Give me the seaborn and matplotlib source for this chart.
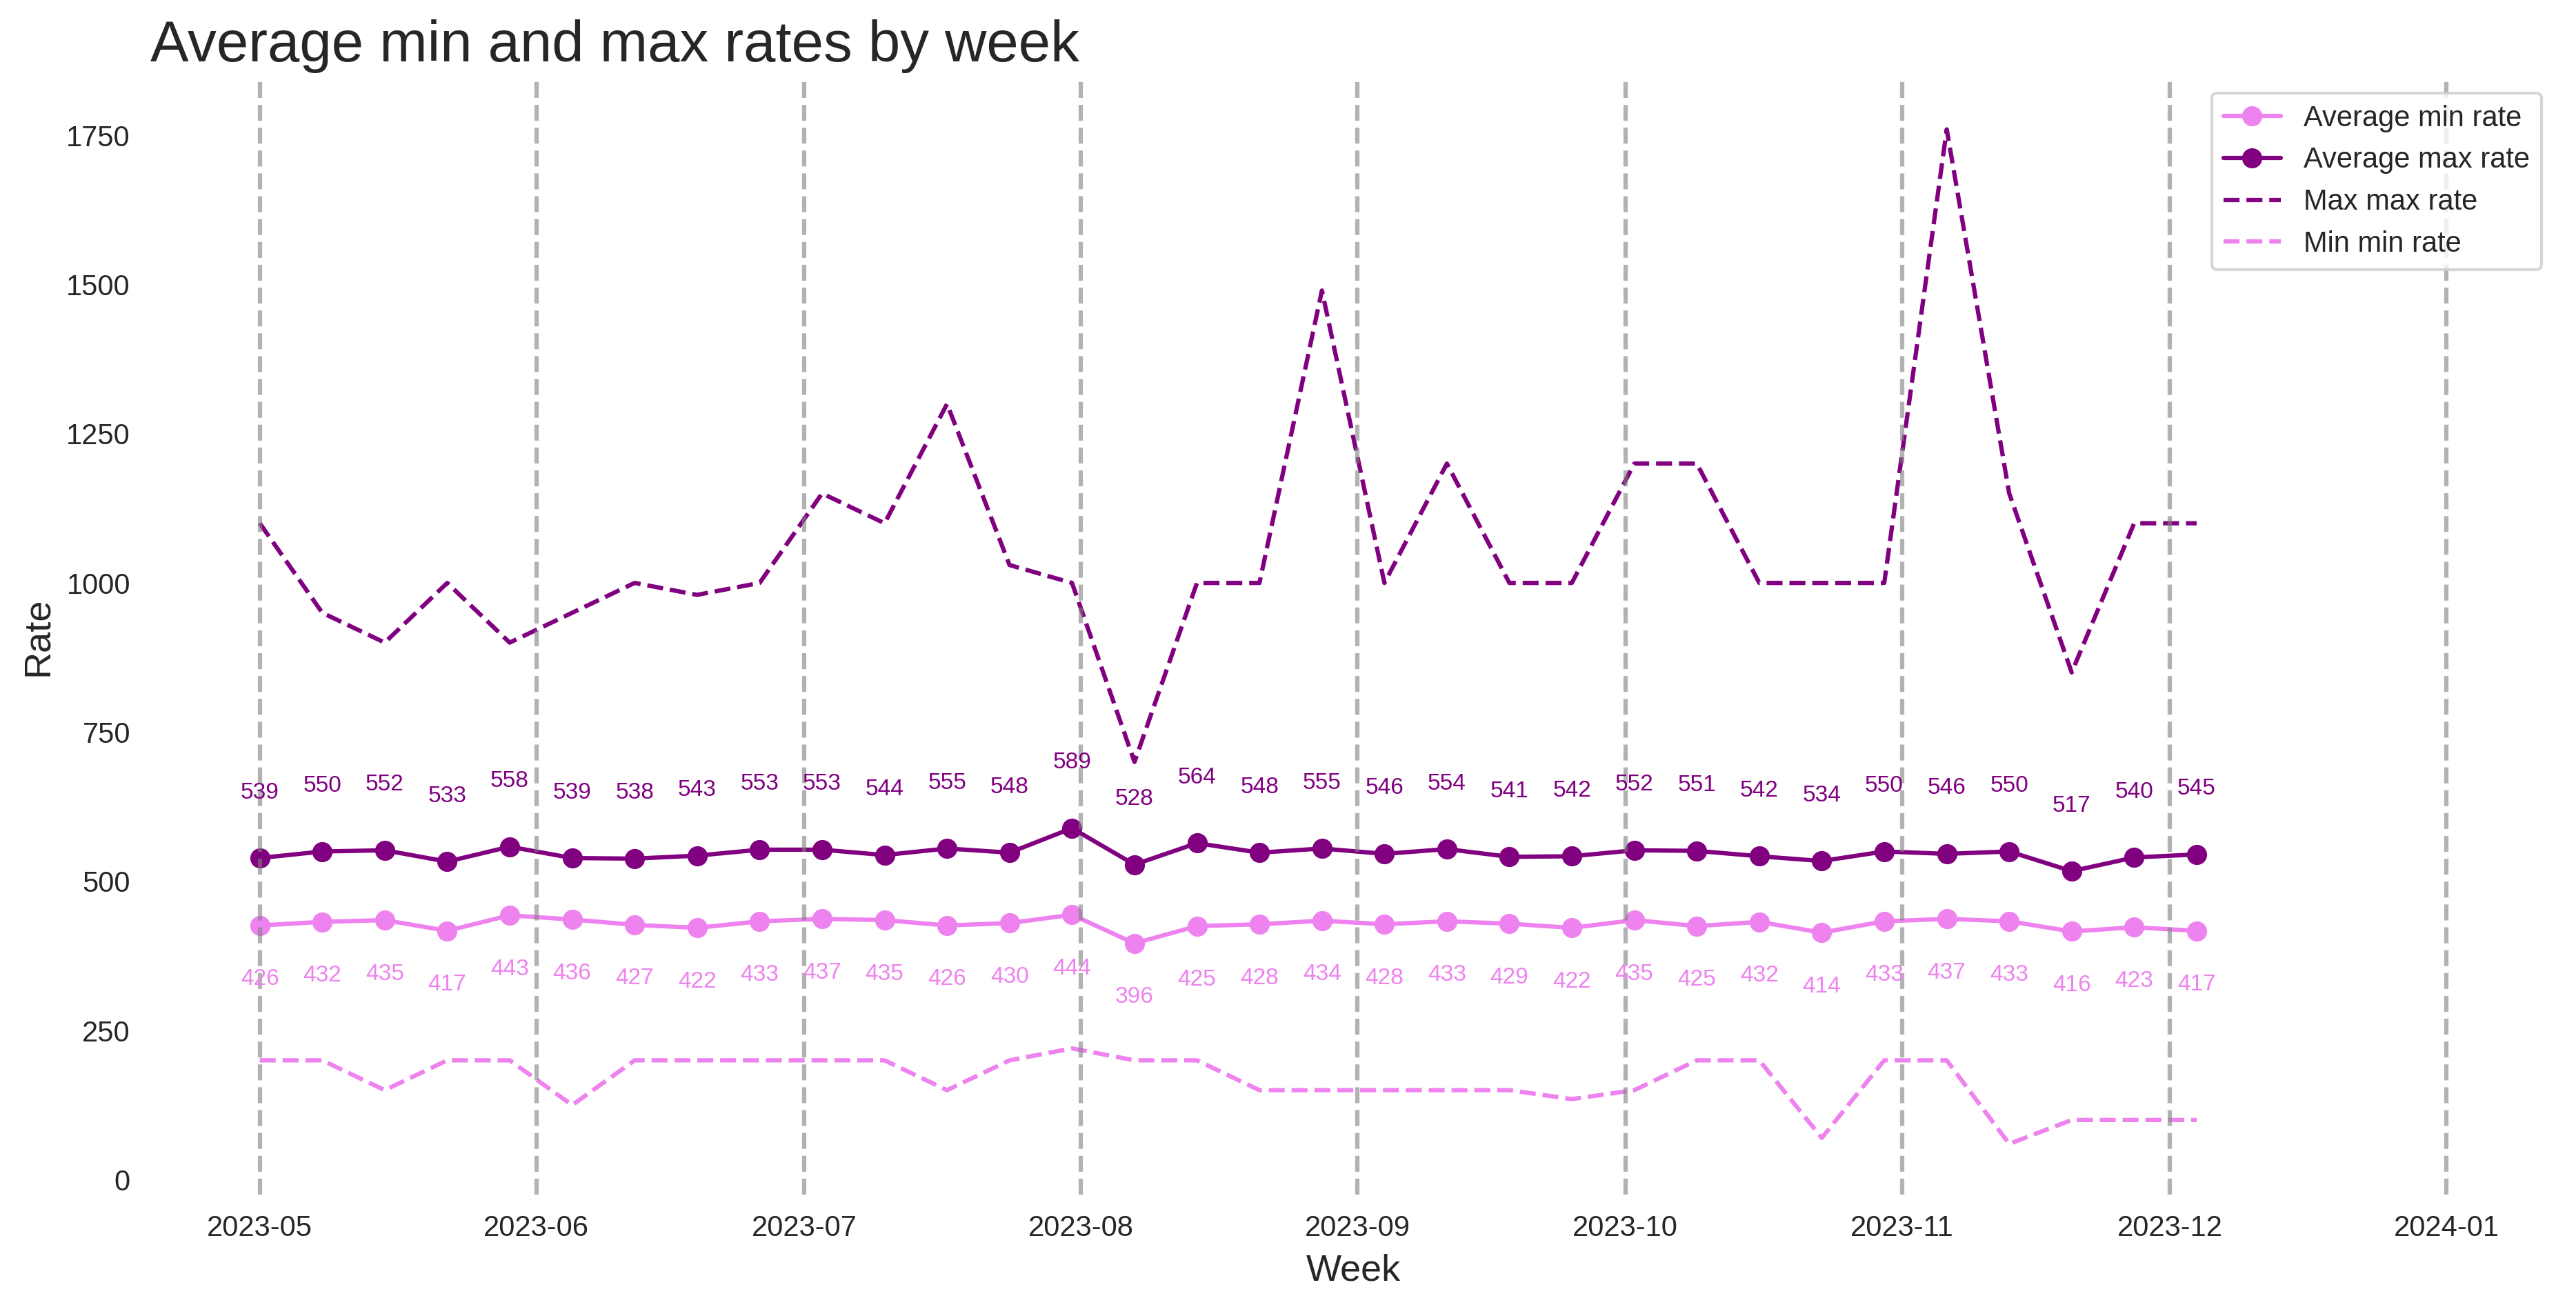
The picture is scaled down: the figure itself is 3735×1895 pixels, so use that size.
import pandas as pd
import matplotlib.pyplot as plt
import seaborn as sns

# weekly values
weeks = pd.date_range("2023-05-01", periods=32, freq="W-MON")

avg_min_rate = [426, 432, 435, 417, 443, 436, 427, 422, 433, 437, 435, 426, 430, 444, 396, 425,
                428, 434, 428, 433, 429, 422, 435, 425, 432, 414, 433, 437, 433, 416, 423, 417]
avg_max_rate = [539, 550, 552, 533, 558, 539, 538, 543, 553, 553, 544, 555, 548, 589, 528, 564,
                548, 555, 546, 554, 541, 542, 552, 551, 542, 534, 550, 546, 550, 517, 540, 545]
max_max_rate = [1100, 950, 900, 1000, 900, 950, 1000, 980, 1000, 1150, 1100, 1300, 1030, 1000, 700, 1000,
                1000, 1490, 1000, 1200, 1000, 1000, 1200, 1200, 1000, 1000, 1000, 1760, 1150, 850, 1100, 1100]
min_min_rate = [200, 200, 150, 200, 200, 125, 200, 200, 200, 200, 200, 150, 200, 220, 200, 200,
                150, 150, 150, 150, 150, 135, 150, 200, 200, 70, 200, 200, 60, 100, 100, 100]

month_starts = pd.date_range("2023-05-01", "2024-01-01", freq="MS")

sns.set_style("white")
plt.rcParams["font.family"] = ["Liberation Sans", "DejaVu Sans"]

fig, ax = plt.subplots(figsize=(3735 / 300, 1895 / 300), dpi=300)
fig.subplots_adjust(left=0.0584, right=0.9922, top=0.9398, bottom=0.0860)

sns.lineplot(x=weeks, y=avg_min_rate, color="violet", marker="o", markersize=6,
             mec="violet", mew=1, label="Average min rate", ax=ax)
sns.lineplot(x=weeks, y=avg_max_rate, color="purple", marker="o", markersize=6,
             mec="purple", mew=1, label="Average max rate", ax=ax)
sns.lineplot(x=weeks, y=max_max_rate, color="purple", linestyle="--", label="Max max rate", ax=ax)
sns.lineplot(x=weeks, y=min_min_rate, color="violet", linestyle="--", label="Min min rate", ax=ax)

# value labels above / below the average lines
for d, v in zip(weeks, avg_max_rate):
    ax.text(d, v + 100, str(v), ha="center", fontsize=8, color="purple")
for d, v in zip(weeks, avg_min_rate):
    ax.text(d, v - 100, str(v), ha="center", fontsize=8, color="violet")

# month separators
for m in month_starts:
    ax.axvline(m, color="gray", linestyle="--", alpha=0.6)

sns.despine(left=True, bottom=True)
ax.set_title("Average min and max rates by week", loc="left", fontsize=20)
ax.set_xlabel("Week", fontsize=13)
ax.set_ylabel("Rate", fontsize=13)
ax.legend(loc="upper right")

fig.savefig("out.png", dpi=300)
